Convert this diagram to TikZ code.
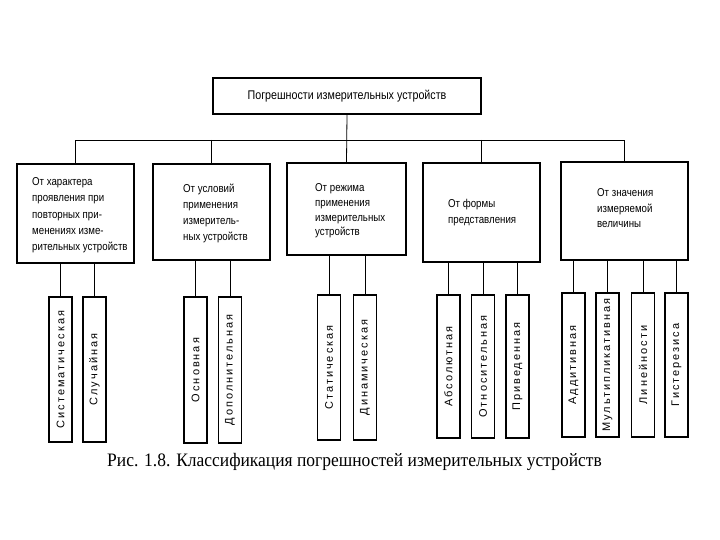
\documentclass[tikz,border=0pt]{standalone}
\usepackage{fontspec}
\setmainfont{Liberation Serif}
\newfontfamily\capfont[FakeStretch=0.92]{Liberation Serif}
\newfontfamily\boxfont[FakeStretch=0.85]{Liberation Sans}
\newfontfamily\leaffont[LetterSpace=18]{Liberation Sans}
\begin{document}
\begin{tikzpicture}[x=1pt,y=-1pt,
  box/.style={draw, line width=1.7pt, inner sep=0pt},
  txt/.style={anchor=west, align=left, inner sep=0pt, font=\boxfont\fontsize{11.4}{16.3}\selectfont},
  leafbox/.style={draw, line width=1.5pt, rotate=90, inner sep=0pt, minimum height=23pt, font=\leaffont\fontsize{11}{13}\selectfont},
  wire/.style={line width=0.8pt}]
\useasboundingbox[fill=white] (0,0) rectangle (720,540);
% top
\node[box, minimum width=268pt, minimum height=36pt, font=\boxfont\fontsize{12.6}{14}\selectfont] (top) at (347,96) {Погрешности измерительных устройств};
% categories
\node[box, minimum width=117pt, minimum height=99pt] (c1) at (75.5,213.5) {};
\node[box, minimum width=117pt, minimum height=96pt] (c2) at (211.5,212) {};
\node[box, minimum width=119pt, minimum height=92pt] (c3) at (346.5,209) {};
\node[box, minimum width=117pt, minimum height=99pt] (c4) at (481.5,212.5) {};
\node[box, minimum width=127pt, minimum height=98pt] (c5) at (624.5,211) {};
\node[txt] (t1) at (32,215.5) {От характера\\проявления при\\повторных при-\\менениях изме-\\рительных устройств};
\node[txt] (t2) at (183,213.5) {От условий\\применения\\измеритель-\\ных устройств};
\node[txt, font=\boxfont\fontsize{11.4}{14.8}\selectfont] (t3) at (315,211) {От режима\\применения\\измерительных\\устройств};
\node[txt] (t4) at (448,212.5) {От формы\\представления};
\node[txt, font=\boxfont\fontsize{11.4}{15.5}\selectfont] (t5) at (597,208.5) {От значения\\измеряемой\\величины};
% bus
\coordinate (bus) at (0,140);
\draw[wire] (top.south) -- (c3.north);
\draw[wire] (c1.north) -- (c1.north |- bus) -- (c5.north |- bus) -- (c5.north);
\draw[wire] (c2.north |- bus) -- (c2.north);
\draw[wire] (c4.north |- bus) -- (c4.north);
% leaves
\node[leafbox, minimum width=145pt] (l11) at (60.5,369.5) {Систематическая};
\node[leafbox, minimum width=145pt] (l12) at (94.5,369.5) {Случайная};
\node[leafbox, minimum width=146pt] (l21) at (195.5,370) {Основная};
\node[leafbox, minimum width=146pt] (l22) at (230,370) {Дополнительная};
\node[leafbox, minimum width=145pt] (l31) at (329,367.5) {Статическая};
\node[leafbox, minimum width=145pt] (l32) at (365,367.5) {Динамическая};
\node[leafbox, minimum width=143pt] (l41) at (448.5,366.5) {Абсолютная};
\node[leafbox, minimum width=143pt] (l42) at (483,366.5) {Относительная};
\node[leafbox, minimum width=143pt] (l43) at (517.5,366.5) {Приведенная};
\node[leafbox, minimum width=144pt] (l51) at (573.5,365) {Аддитивная};
\node[leafbox, minimum width=144pt] (l52) at (607.5,365) {Мультипликативная};
\node[leafbox, minimum width=144pt] (l53) at (643,365) {Линейности};
\node[leafbox, minimum width=144pt] (l54) at (676.5,365) {Гистерезиса};
% leaf connectors
\foreach \c/\l in {c1/l11,c1/l12,c2/l21,c2/l22,c3/l31,c3/l32,c4/l41,c4/l42,c4/l43,c5/l51,c5/l52,c5/l53,c5/l54}
  \draw[wire] (\c.south -| \l.east) -- (\l.east);
% caption
\node[anchor=base west, inner sep=0pt, font=\capfont\fontsize{19}{22}\selectfont] (cap) at (107,466) {Рис. 1.8. Классификация погрешностей измерительных устройств};
\end{tikzpicture}
\end{document}
